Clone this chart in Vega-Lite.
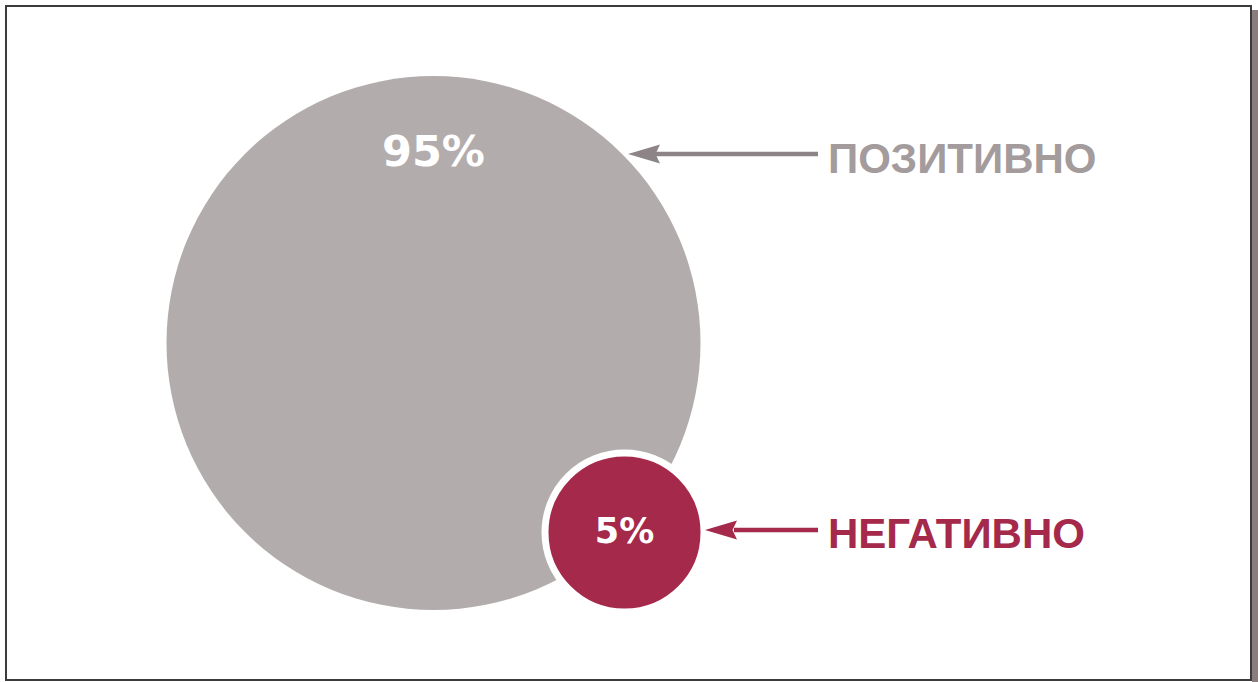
{
  "$schema": "https://vega.github.io/schema/vega-lite/v6.json",
  "width": 1258,
  "height": 682,
  "autosize": {"type": "fit", "contains": "padding"},
  "padding": 0,
  "background": "white",
  "config": {"view": {"stroke": null}},
  "datasets": {
    "shares": [
      {"label": "ПОЗИТИВНО", "share": 95, "pct": "95%", "cx": 433.5, "cy": 343, "pcty": 166, "ax": 818, "ax2": 655, "ay": 154, "hx": 644, "tx": 828, "ty": 173},
      {"label": "НЕГАТИВНО", "share": 5, "pct": "5%", "cx": 624.5, "cy": 532.5, "pcty": 543, "ax": 818, "ax2": 734, "ay": 530, "hx": 721, "tx": 828, "ty": 548}
    ],
    "frame": [{"x": 6, "x2": 1251, "y": 6, "y2": 680, "sx": 1252, "sx2": 1258, "sy": 10, "sy2": 682}]
  },
  "resolve": {"scale": {"color": "independent"}},
  "layer": [
    {
      "data": {"name": "frame"},
      "mark": {"type": "rect", "fill": "#8b7d7e"},
      "encoding": {
        "x": {"field": "sx", "type": "quantitative", "scale": {"domain": [0, 1258], "nice": false, "zero": false}, "axis": null},
        "x2": {"field": "sx2"},
        "y": {"field": "sy", "type": "quantitative", "scale": {"domain": [0, 682], "nice": false, "zero": false, "reverse": true}, "axis": null},
        "y2": {"field": "sy2"}
      }
    },
    {
      "data": {"name": "frame"},
      "mark": {"type": "rect", "fill": "white", "stroke": "#3c3c3c", "strokeWidth": 2},
      "encoding": {
        "x": {"field": "x", "type": "quantitative", "scale": {"domain": [0, 1258], "nice": false, "zero": false}, "axis": null},
        "x2": {"field": "x2"},
        "y": {"field": "y", "type": "quantitative", "scale": {"domain": [0, 682], "nice": false, "zero": false, "reverse": true}, "axis": null},
        "y2": {"field": "y2"}
      }
    },
    {
      "data": {"name": "shares"},
      "mark": {"type": "point", "shape": "circle", "filled": true, "opacity": 1, "stroke": "white"},
      "encoding": {
        "x": {"field": "cx", "type": "quantitative", "scale": {"domain": [0, 1258], "nice": false, "zero": false}, "axis": null},
        "y": {"field": "cy", "type": "quantitative", "scale": {"domain": [0, 682], "nice": false, "zero": false, "reverse": true}, "axis": null},
        "size": {"field": "share", "type": "quantitative", "scale": {"type": "linear", "zero": false, "domain": [5, 95], "range": [25281, 285156]}, "legend": null},
        "color": {"field": "label", "type": "nominal", "scale": {"domain": ["ПОЗИТИВНО", "НЕГАТИВНО"], "range": ["#b3acac", "#a5294a"]}, "legend": null},
        "strokeWidth": {"condition": {"test": "datum.share < 50", "value": 7}, "value": 0}
      }
    },
    {
      "data": {"name": "shares"},
      "mark": {"type": "rule", "strokeWidth": 4.5},
      "encoding": {
        "x": {"field": "ax2", "type": "quantitative", "scale": {"domain": [0, 1258], "nice": false, "zero": false}, "axis": null},
        "x2": {"field": "ax"},
        "y": {"field": "ay", "type": "quantitative", "scale": {"domain": [0, 682], "nice": false, "zero": false, "reverse": true}, "axis": null},
        "color": {"field": "label", "type": "nominal", "scale": {"domain": ["ПОЗИТИВНО", "НЕГАТИВНО"], "range": ["#8c8487", "#a5294a"]}, "legend": null}
      }
    },
    {
      "data": {"name": "shares"},
      "mark": {"type": "point", "shape": "M-1,0L1,-0.6L0.72,0L1,0.6Z", "filled": true, "opacity": 1, "size": 1024},
      "encoding": {
        "x": {"field": "hx", "type": "quantitative", "scale": {"domain": [0, 1258], "nice": false, "zero": false}, "axis": null},
        "y": {"field": "ay", "type": "quantitative", "scale": {"domain": [0, 682], "nice": false, "zero": false, "reverse": true}, "axis": null},
        "color": {"field": "label", "type": "nominal", "scale": {"domain": ["ПОЗИТИВНО", "НЕГАТИВНО"], "range": ["#8c8487", "#a5294a"]}, "legend": null}
      }
    },
    {
      "data": {"name": "shares"},
      "mark": {"type": "text", "align": "left", "baseline": "alphabetic", "font": "Liberation Sans", "fontWeight": "bold", "fontSize": 42},
      "encoding": {
        "x": {"field": "tx", "type": "quantitative", "scale": {"domain": [0, 1258], "nice": false, "zero": false}, "axis": null},
        "y": {"field": "ty", "type": "quantitative", "scale": {"domain": [0, 682], "nice": false, "zero": false, "reverse": true}, "axis": null},
        "text": {"field": "label"},
        "color": {"field": "label", "type": "nominal", "scale": {"domain": ["ПОЗИТИВНО", "НЕГАТИВНО"], "range": ["#a39b9c", "#a5294a"]}, "legend": null}
      }
    },
    {
      "data": {"name": "shares"},
      "mark": {"type": "text", "align": "center", "baseline": "alphabetic", "font": "DejaVu Sans", "fontWeight": "bold", "fill": "white"},
      "encoding": {
        "x": {"field": "cx", "type": "quantitative", "scale": {"domain": [0, 1258], "nice": false, "zero": false}, "axis": null},
        "y": {"field": "pcty", "type": "quantitative", "scale": {"domain": [0, 682], "nice": false, "zero": false, "reverse": true}, "axis": null},
        "text": {"field": "pct"},
        "size": {"condition": {"test": "datum.share > 50", "value": 43}, "value": 35}
      }
    }
  ]
}
